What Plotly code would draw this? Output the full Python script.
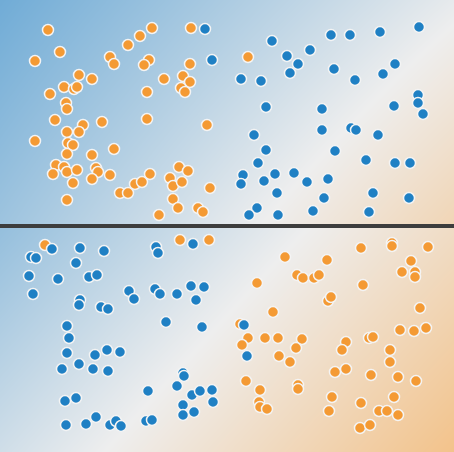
import plotly.graph_objects as go
from plotly.subplots import make_subplots

# ---- Top panel points (x, y in picture frame of the panel) ----
top_orange_x = [48, 60, 35, 152, 140, 128, 191, 110, 114, 149, 144, 190, 79, 92, 64, 74, 77, 50,
                164, 183, 190, 181, 185, 147, 66, 67, 55, 102, 147, 83, 67, 79, 207, 35, 68, 73,
                114, 67, 92, 56, 64, 53, 67, 77, 96, 98, 92, 110, 150, 73, 135, 142, 120, 128,
                170, 179, 188, 173, 182, 210, 67, 173, 178, 198, 203, 159, 248]
top_orange_y = [30, 52, 61, 28, 36, 45, 28, 57, 64, 60, 65, 64, 75, 79, 87, 89, 87, 94,
                79, 76, 82, 88, 92, 92, 103, 109, 120, 122, 119, 125, 132, 132, 125, 141, 143, 145,
                149, 154, 155, 165, 167, 174, 172, 170, 168, 172, 179, 175, 174, 183, 184, 182, 193, 193,
                178, 167, 171, 186, 182, 188, 200, 199, 208, 208, 212, 215, 57]
top_blue_x = [205, 212, 272, 287, 298, 290, 310, 331, 350, 380, 419, 241, 261, 334, 355, 383, 395,
              266, 322, 394, 418, 418, 423, 254, 322, 351, 356, 378, 266, 335, 258, 243, 241, 264,
              275, 294, 307, 328, 277, 366, 395, 410, 373, 324, 409, 257, 249, 278, 313, 369]
top_blue_y = [29, 60, 41, 56, 64, 73, 50, 35, 35, 32, 27, 79, 81, 69, 80, 74, 64,
              107, 109, 106, 95, 103, 114, 135, 130, 128, 130, 135, 150, 151, 163, 175, 184, 181,
              174, 173, 182, 179, 193, 160, 163, 163, 193, 198, 198, 208, 215, 215, 211, 212]

# ---- Bottom panel points ----
bot_orange_x = [45, 180, 209, 285, 257, 297, 303, 314, 319, 327, 361, 392, 392, 428, 411, 402, 415,
                415, 363, 328, 331, 273, 420, 240, 248, 242, 265, 278, 302, 296, 279, 290, 346,
                342, 369, 373, 400, 414, 426, 390, 390, 335, 346, 371, 398, 416, 246, 260, 298,
                298, 259, 260, 267, 332, 329, 361, 394, 379, 387, 398, 360, 370]
bot_orange_y = [245, 240, 240, 257, 283, 275, 278, 278, 275, 260, 248, 243, 246, 247, 261, 272, 272,
                277, 285, 301, 297, 312, 308, 324, 338, 345, 338, 338, 339, 348, 356, 362, 342,
                350, 338, 337, 330, 331, 328, 350, 362, 372, 369, 375, 377, 381, 381, 390, 385,
                389, 402, 407, 409, 397, 411, 403, 397, 411, 411, 415, 428, 425]
bot_blue_x = [52, 31, 36, 80, 104, 76, 29, 58, 89, 97, 33, 156, 158, 193, 129, 134, 155, 160, 177,
              191, 204, 196, 80, 79, 101, 108, 166, 202, 67, 69, 67, 95, 107, 120, 62, 79, 93, 108,
              183, 184, 148, 177, 192, 200, 212, 213, 183, 183, 194, 65, 76, 66, 86, 96, 110, 116,
              121, 146, 152, 244, 247]
bot_blue_y = [249, 257, 258, 248, 251, 263, 276, 279, 277, 275, 294, 247, 253, 244, 291, 299, 289, 294, 294,
              286, 287, 300, 300, 305, 307, 309, 322, 327, 326, 338, 353, 355, 350, 352, 369, 364, 369, 371,
              373, 376, 391, 386, 395, 391, 390, 402, 405, 415, 412, 401, 398, 425, 424, 417, 425, 421,
              426, 421, 420, 325, 356]

# ---- Background decision-surface values at the panel corners ----
grid_x = [-10, 464]
top_grid_y = [-10, 234]
top_z = [[-0.88, -0.05], [-0.55, 0.44]]
bot_grid_y = [218, 462]
bot_z = [[-0.64, 0.29], [-0.21, 0.74]]

ORANGE = "#f49a34"
BLUE = "#1f80c4"
colorscale = [[0.0, "#5aa0d2"], [0.5, "#eeeeee"], [1.0, "#f5b060"]]

fig = make_subplots(rows=2, cols=1, vertical_spacing=0.0)

for row, gy, z in ((1, top_grid_y, top_z), (2, bot_grid_y, bot_z)):
    fig.add_trace(go.Heatmap(x=grid_x, y=gy, z=z, zmin=-1, zmax=1, zsmooth="best",
                             colorscale=colorscale, showscale=False, hoverinfo="skip"),
                  row=row, col=1)

marker_line = dict(color="#f4f4f4", width=1.5)
fig.add_trace(go.Scatter(x=top_orange_x, y=top_orange_y, mode="markers",
                         marker=dict(color=ORANGE, size=11, line=marker_line)), row=1, col=1)
fig.add_trace(go.Scatter(x=top_blue_x, y=top_blue_y, mode="markers",
                         marker=dict(color=BLUE, size=11, line=marker_line)), row=1, col=1)
fig.add_trace(go.Scatter(x=bot_orange_x, y=bot_orange_y, mode="markers",
                         marker=dict(color=ORANGE, size=11, line=marker_line)), row=2, col=1)
fig.add_trace(go.Scatter(x=bot_blue_x, y=bot_blue_y, mode="markers",
                         marker=dict(color=BLUE, size=11, line=marker_line)), row=2, col=1)

axis_off = dict(visible=False, showgrid=False, zeroline=False, fixedrange=True)
fig.update_layout(
    width=454, height=452, margin=dict(l=0, r=0, t=0, b=0),
    paper_bgcolor="#3d3d3d", plot_bgcolor="#3d3d3d", showlegend=False,
    xaxis=dict(axis_off, range=[0, 454]),
    xaxis2=dict(axis_off, range=[0, 454]),
    yaxis=dict(axis_off, range=[224, 0], domain=[228 / 452, 1]),
    yaxis2=dict(axis_off, range=[452, 228], domain=[0, 224 / 452]),
)

fig.write_html("out.html", config={"displayModeBar": False},
               post_script="document.body.style.margin='0';document.body.style.overflow='hidden';")
